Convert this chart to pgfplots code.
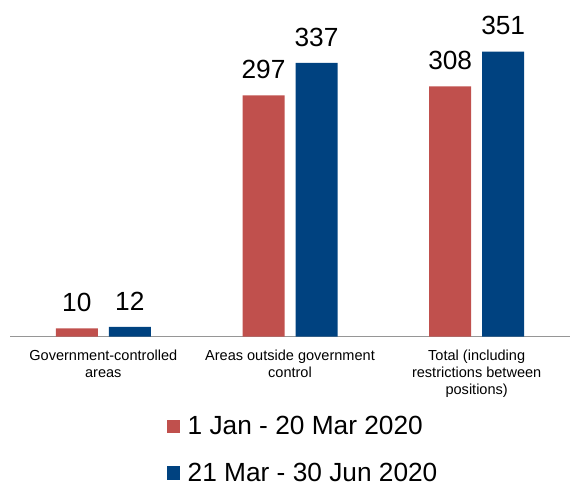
\documentclass[border=0pt]{standalone}
\usepackage{fontspec}
\setmainfont{Liberation Sans}
\usepackage{pgfplots}
\pgfplotsset{compat=1.18}
\definecolor{cred}{RGB}{192,80,77}
\definecolor{cblue}{RGB}{0,66,128}
\definecolor{axgray}{RGB}{150,150,150}
\begin{document}
\begin{tikzpicture}
\path[use as bounding box] (0pt,0pt) rectangle (427.5pt,364.5pt);
\begin{axis}[
  at={(7.5pt,112.1pt)}, anchor=south west,
  scale only axis, width=420pt, height=243.6pt,
  xmin=-0.5, xmax=2.5, ymin=0, ymax=400,
  clip=false,
  ybar=8.25pt, bar width=31.5pt,
  axis x line=bottom, axis y line=none,
  x axis line style={-, draw=axgray, line width=1.1pt},
  xtick={0,1,2},
  xticklabels={{Government-controlled\\areas},{Areas outside government\\control},{Total (including\\restrictions between\\positions)}},
  xticklabel style={align=center, font=\fontsize{10.9}{13.1}\selectfont, inner sep=0pt, yshift=-9.5pt},
  major tick length=0pt,
  ytick=\empty,
  /pgf/number format/assume math mode=true,
  nodes near coords,
  nodes near coords style={font=\fontsize{19.7}{23}\selectfont, inner sep=0pt, anchor=base, yshift=12.4pt, text=black},
  legend style={at={(0.2804,-0.246)}, anchor=north west, draw=none, fill=none,
    inner sep=0pt, outer sep=0pt, row sep=19.5pt,
    font=\fontsize{19.7}{23}\selectfont,
    nodes={inner sep=0pt},
    /tikz/every odd column/.append style={column sep=5.5pt}},
  legend cell align=left,
  legend image code/.code={\fill[#1] (0pt,-5pt) rectangle (10pt,5pt);},
]
\addplot[fill=cred, draw=none] coordinates {(0,10) (1,297) (2,308)};
\addplot[fill=cblue, draw=none] coordinates {(0,12) (1,337) (2,351)};
\legend{1 Jan - 20 Mar 2020, 21 Mar - 30 Jun 2020}
\end{axis}
\end{tikzpicture}
\end{document}
